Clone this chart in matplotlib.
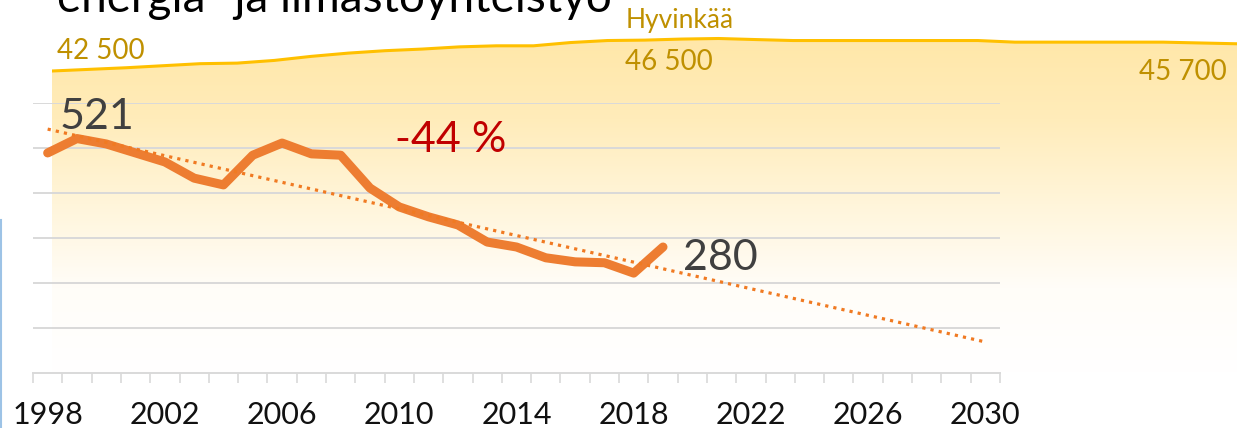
import matplotlib
matplotlib.use("Agg")
import matplotlib.pyplot as plt
import numpy as np
from matplotlib.colors import LinearSegmentedColormap
from matplotlib.lines import Line2D

plt.rcParams['font.family'] = ['Lato', 'DejaVu Sans']

# Päästöt (orange line), 1998-2019
vuodet = list(range(1998, 2031))
paastot = [489, 521, 509, 489, 469, 433, 418, 484, 511, 487, 484, 411,
           369, 347, 329, 291, 280, 256, 247, 245, 222, 280]
trendi_alku, trendi_loppu = 542, 69   # trend 1998 -> 2030

# Asukasluku (yellow area), 1998-2030
asukkaat = [42500, 42700, 42900, 43150, 43400, 43470, 43800, 44300, 44700,
            45000, 45200, 45470, 45600, 45600, 46000, 46250, 46300, 46430,
            46500, 46370, 46250, 46250, 46250, 46250, 46250, 46250, 46050,
            46050, 46050, 46050, 46050, 45950, 45850]
tick_vuodet = [1998, 2002, 2006, 2010, 2014, 2018, 2022, 2026, 2030]

W, H = 1237, 428
fig = plt.figure(figsize=(W / 100, H / 100), dpi=100)

# --- population area (own axes, wider than the main chart) ---
axp = fig.add_axes([52 / W, (H - 373) / H, (W - 52) / W, 373 / H])
axp.set_zorder(1)
axp.patch.set_alpha(0)
xp = np.arange(len(asukkaat))
axp.set_xlim(0, len(asukkaat) - 1)
axp.set_ylim(5331, 51238)
poly = axp.fill_between(xp, 5331, asukkaat, color='none', lw=0)
cmap = LinearSegmentedColormap.from_list(
    'kelt', ['#FFFFFF', '#FFFDF8', '#FFF5DA', '#FFECBA', '#FFE7A8'])
grad = np.linspace(0, 1, 256).reshape(-1, 1)
img = axp.imshow(grad, aspect='auto', cmap=cmap, origin='lower',
                 extent=[0, len(asukkaat) - 1, 5331, 47000], zorder=0)
img.set_clip_path(poly.get_paths()[0], transform=axp.transData)
axp.plot(xp, asukkaat, color='#FFC000', lw=2.2, zorder=2)
axp.axis('off')

# --- main chart ---
ax = fig.add_axes([33 / W, (H - 373) / H, 967 / W, 270 / H])
ax.set_zorder(2)
ax.patch.set_alpha(0)
ax.set_xlim(-0.5, len(vuodet) - 0.5)
ax.set_ylim(0, 600)
ax.set_yticks(range(100, 601, 100))
ax.yaxis.grid(True, color='#D9D9D9', lw=1.4)
ax.tick_params(axis='y', left=False, labelleft=False)
for s in ['top', 'right', 'left']:
    ax.spines[s].set_visible(False)
ax.spines['bottom'].set_color('#D9D9D9')
ax.spines['bottom'].set_linewidth(1.4)

ax.set_xticks([vuodet.index(v) for v in tick_vuodet])
ax.set_xticklabels([str(v) for v in tick_vuodet], fontsize=22, color='#111111')
ax.set_xticks(np.arange(-0.5, len(vuodet)), minor=True)
ax.tick_params(axis='x', which='major', length=0, pad=20)
ax.tick_params(axis='x', which='minor', length=7, width=1.2, color='#D9D9D9')

ix = np.arange(len(paastot))
ax.plot(ix, paastot, color='#ED7D31', lw=6.5, solid_capstyle='round',
        solid_joinstyle='round', zorder=3, clip_on=False)
ax.plot([0, len(vuodet) - 1], [trendi_alku, trendi_loppu], color='#F07A22',
        lw=2.3, linestyle=(0, (1, 1.6)), zorder=4, clip_on=False)

ax.text(0.42, 542, '521', fontsize=31, color='#404040', va='baseline')
ax.text(21.68, 229, '280', fontsize=31, color='#404040', va='baseline')
ax.text(11.85, 491, '-44 %', fontsize=31, color='#C00000', va='baseline')

# population labels
gold = '#BF9000'
fig.text(57 / W, 1 - 59 / H, '42 500', fontsize=20, color=gold)
fig.text(626 / W, 1 - 28 / H, 'Hyvinkää', fontsize=19, color=gold)
fig.text(625 / W, 1 - 70 / H, '46 500', fontsize=20, color=gold)
fig.text(1139 / W, 1 - 80 / H, '45 700', fontsize=20, color=gold)

# clipped slide title at the top edge
fig.text(57 / W, 1 - 12 / H, 'energia- ja ilmastoyhteistyö', fontsize=33,
         color='black', va='baseline')

# thin slide border on the left
fig.add_artist(Line2D([1 / W, 1 / W], [0, 1 - 220 / H], color='#9DC3E6', lw=1.5))

fig.savefig('out.png', dpi=100)
